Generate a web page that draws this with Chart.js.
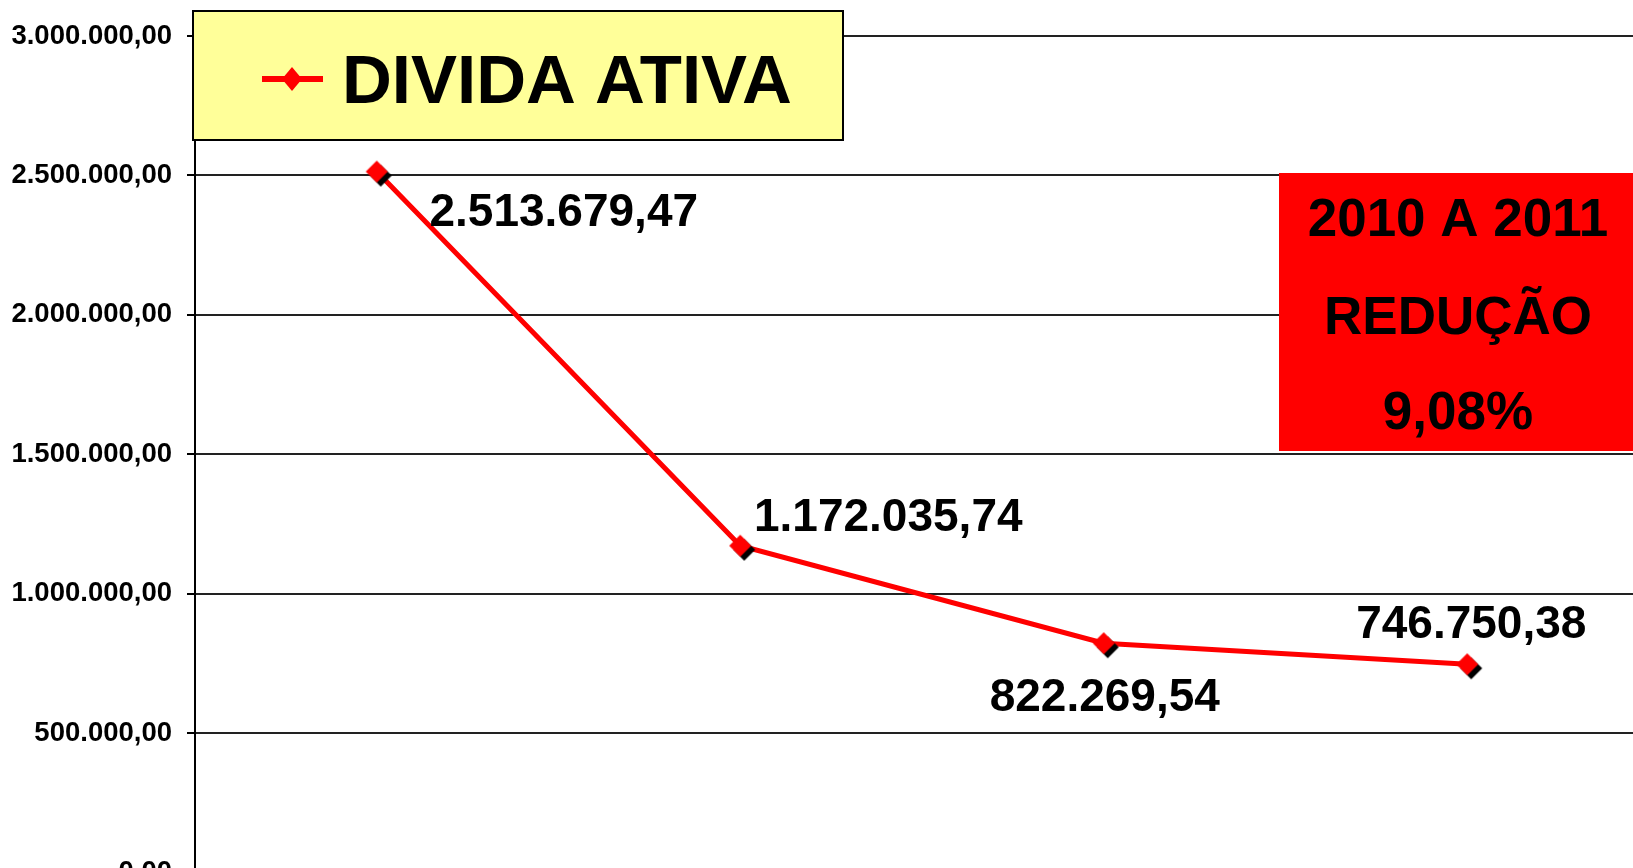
<!DOCTYPE html>
<html>
<head>
<meta charset="utf-8">
<script src="https://cdn.jsdelivr.net/npm/chart.js@4.4.0/dist/chart.umd.min.js"></script>
<style>
  html, body { margin: 0; padding: 0; background: #fff; overflow: hidden; }
  #wrap { position: absolute; left: 0; top: 0; width: 1665px; height: 904px; }
</style>
</head>
<body>
<div id="wrap"><canvas id="dividaChart" width="1665" height="904"></canvas></div>
<script>
const years = ['2008', '2009', '2010', '2011'];
const dividaAtiva = [2513679.47, 1172035.74, 822269.54, 746750.38];
const yTicks = [0, 500000, 1000000, 1500000, 2000000, 2500000, 3000000];
const seriesName = 'DIVIDA ATIVA';
const noteLines = ['2010 A 2011', 'REDUÇÃO', '9,08%'];

const FONT = '"Liberation Sans", Arial, sans-serif';

// 1234567.8 -> 1.234.567,80
function fmtBR(v) {
  const parts = Math.abs(v).toFixed(2).split('.');
  return parts[0].replace(/\B(?=(\d{3})+(?!\d))/g, '.') + ',' + parts[1];
}

function diamondMarker(r, shadow) {
  const c = document.createElement('canvas');
  const size = 2 * (r + shadow) + 4;
  c.width = c.height = size;
  const g = c.getContext('2d');
  const m = size / 2;
  const diamond = (cx, cy, col) => {
    g.fillStyle = col;
    g.beginPath();
    g.moveTo(cx, cy - r); g.lineTo(cx + r, cy); g.lineTo(cx, cy + r); g.lineTo(cx - r, cy);
    g.closePath();
    g.fill();
  };
  if (shadow) diamond(m + shadow, m + shadow, '#000');
  diamond(m, m, '#ff0000');
  return c;
}

// value labels next to each point (offset to baseline, in px)
const labelOffsets = [[187, 54], [148, -15], [1, 68], [4, -26]];
const valueLabels = {
  id: 'valueLabels',
  afterDatasetsDraw(chart) {
    const ctx = chart.ctx;
    const meta = chart.getDatasetMeta(0);
    ctx.save();
    ctx.font = 'bold 46px ' + FONT;
    ctx.fillStyle = '#000';
    ctx.textAlign = 'center';
    ctx.textBaseline = 'alphabetic';
    meta.data.forEach((pt, i) => {
      const off = labelOffsets[i];
      ctx.fillText(fmtBR(chart.data.datasets[0].data[i]), pt.x + off[0], pt.y + off[1]);
    });
    ctx.restore();
  }
};

// yellow legend box and red note box
const overlays = {
  id: 'overlays',
  afterDraw(chart) {
    const ctx = chart.ctx;
    const ds = chart.data.datasets[0];
    ctx.save();
    ctx.fillStyle = '#ffff99';
    ctx.fillRect(193, 11, 650, 129);
    ctx.lineWidth = 2;
    ctx.strokeStyle = '#000';
    ctx.strokeRect(193, 11, 650, 129);

    ctx.strokeStyle = ds.borderColor;
    ctx.lineWidth = 6;
    ctx.beginPath();
    ctx.moveTo(262, 79); ctx.lineTo(323, 79);
    ctx.stroke();
    ctx.fillStyle = ds.borderColor;
    ctx.beginPath();
    ctx.moveTo(292, 67); ctx.lineTo(302, 79); ctx.lineTo(292, 91); ctx.lineTo(282, 79);
    ctx.closePath();
    ctx.fill();

    ctx.fillStyle = '#000';
    ctx.font = 'bold 69px ' + FONT;
    ctx.textAlign = 'left';
    ctx.textBaseline = 'alphabetic';
    ctx.fillText(ds.label, 342, 103);

    ctx.fillStyle = '#ff0000';
    ctx.fillRect(1279, 173, 360, 278);
    ctx.fillStyle = '#000';
    ctx.font = 'bold 53px ' + FONT;
    ctx.textAlign = 'center';
    const baselines = [236, 334, 429];
    noteLines.forEach((t, i) => ctx.fillText(t, 1458, baselines[i]));
    ctx.restore();
  }
};

new Chart(document.getElementById('dividaChart'), {
  type: 'line',
  data: {
    labels: years,
    datasets: [{
      label: seriesName,
      data: dividaAtiva,
      borderColor: '#ff0000',
      borderWidth: 5,
      tension: 0,
      fill: false,
      pointStyle: diamondMarker(11, 4),
      pointRadius: 11
    }]
  },
  options: {
    responsive: false,
    animation: false,
    events: [],
    layout: { padding: { left: 0, top: 36, right: 11, bottom: 22 } },
    plugins: { legend: { display: false }, tooltip: { enabled: false } },
    scales: {
      x: { type: 'category', offset: true, display: false },
      y: {
        min: 0, max: 3000000,
        afterBuildTicks: s => { s.ticks = yTicks.map(v => ({ value: v })); },
        afterFit: s => { s.width = 195; },
        grid: { color: '#222', lineWidth: 2, tickLength: 8, tickColor: '#000' },
        border: { color: '#000', width: 2 },
        ticks: {
          padding: 15,
          color: '#000',
          font: { family: FONT, size: 27.5, weight: 'bold' },
          callback: v => fmtBR(v)
        }
      }
    }
  },
  plugins: [valueLabels, overlays]
});
</script>
</body>
</html>
